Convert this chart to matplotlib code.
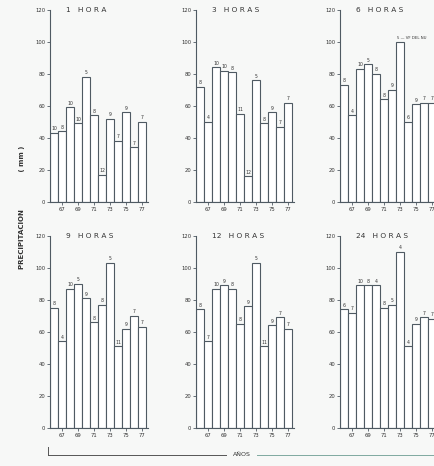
import numpy as np
import matplotlib
matplotlib.use("Agg")
import matplotlib.pyplot as plt

years = np.arange(66, 78)
tick_years = [67, 69, 71, 73, 75, 77]

titles = ["1 HORA", "3 HORAS", "6 HORAS", "9 HORAS", "12 HORAS", "24 HORAS"]

h1 = [43, 44, 59, 49, 78, 54, 17, 52, 38, 56, 34, 50]
h3 = [72, 50, 84, 82, 81, 55, 16, 76, 49, 56, 47, 62]
h6 = [73, 54, 83, 86, 80, 64, 70, 100, 50, 61, 62, 62]
h9 = [75, 54, 87, 90, 81, 66, 77, 103, 51, 62, 70, 63]
h12 = [74, 54, 87, 89, 87, 65, 76, 103, 51, 64, 69, 62]
h24 = [74, 72, 89, 89, 89, 75, 77, 110, 51, 65, 69, 68]

n1 = ["10", "8", "10", "10", "5", "8", "12", "9", "7", "9", "7", "7"]
n3 = ["8", "4", "10", "10", "8", "11", "12", "5", "8", "9", "7", "7"]
n6 = ["8", "4", "10", "5", "8", "8", "9", "5 — VF DEL NU", "6", "9", "7", "7"]
n9 = ["8", "4", "10", "5", "9", "8", "8", "5", "11", "9", "7", "7"]
n12 = ["8", "7", "10", "9", "8", "8", "9", "5", "11", "9", "7", "7"]
n24 = ["6", "7", "10", "8", "4", "8", "5", "4", "4", "9", "7", "7"]

series = [h1, h3, h6, h9, h12, h24]
notes = [n1, n3, n6, n9, n12, n24]

ink = '#4f5a63'
fig = plt.figure(figsize=(4.35, 4.66), dpi=100)
fig.patch.set_facecolor('#f7f8f7')

lefts = [0.115, 0.451, 0.782]
bottoms = [0.567, 0.082]
w, h = 0.225, 0.412

for i in range(6):
    ax = fig.add_axes([lefts[i % 3], bottoms[i // 3], w, h])
    ax.set_facecolor('none')
    ax.bar(years, series[i], width=1.0, facecolor='white', edgecolor=ink, linewidth=0.8)
    for x, v, s in zip(years, series[i], notes[i]):
        if len(s) > 2:
            # nota larga: empieza sobre la barra y sigue a la derecha
            ax.text(x - 0.35, v + 1, s, ha='left', va='bottom', fontsize=2.8, color='#333333')
        else:
            ax.text(x, v + 1, s, ha='center', va='bottom', fontsize=3.3, color='#333333')
    ax.set_xlim(65.5, 77.75)
    ax.set_ylim(0, 120)
    ax.set_yticks(range(0, 121, 20))
    ax.set_xticks(tick_years)
    ax.set_xticklabels([str(t) for t in tick_years])
    ax.tick_params(axis='both', labelsize=3.8, length=2, width=0.6, color=ink, labelcolor='#333333', pad=1.5)
    for sp in ['top', 'right']:
        ax.spines[sp].set_visible(False)
    for sp in ['left', 'bottom']:
        ax.spines[sp].set_color(ink)
        ax.spines[sp].set_linewidth(0.8)
    num, word = titles[i].split(" ")
    ax.text(0.16, 1.0, num + "   " + " ".join(word),
            transform=ax.transAxes, fontsize=5.3, color='#333333', va='center', ha='left')

fig.text(0.05, 0.556, "PRECIPITACION               ( mm )", rotation=90, fontsize=5,
         fontweight='bold', color='#333333', ha='center', va='center')

# eje de años
fig.add_artist(plt.Line2D([0.11, 0.11], [0.024, 0.04], color='#555555', lw=0.7))
fig.add_artist(plt.Line2D([0.11, 0.52], [0.024, 0.024], color='#555555', lw=0.7))
fig.add_artist(plt.Line2D([0.59, 1.0], [0.024, 0.024], color='#7fa9a0', lw=0.7))
fig.text(0.555, 0.024, "AÑOS", fontsize=4.5, color='#333333', ha='center', va='center')

fig.savefig("out.png", dpi=100, facecolor=fig.get_facecolor())
